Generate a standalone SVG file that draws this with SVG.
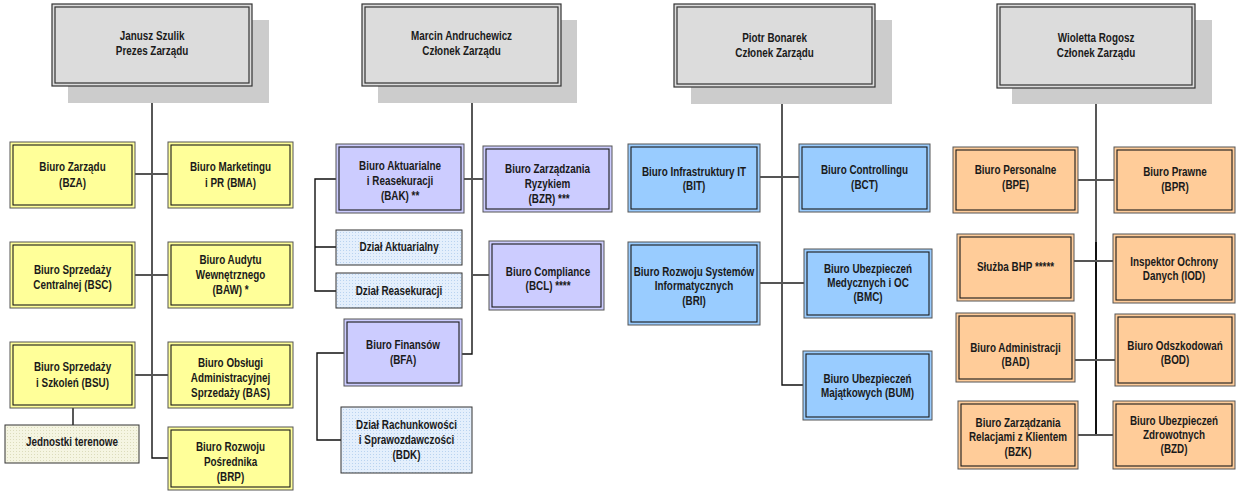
<svg xmlns="http://www.w3.org/2000/svg" width="1236" height="492" viewBox="0 0 1236 492">
<defs>
<pattern id="dotB" width="3" height="3" patternUnits="userSpaceOnUse"><rect width="3" height="3" fill="#e4effc"/><rect x="1" y="1" width="1" height="1" fill="#b9d3f0"/></pattern>
<pattern id="dotY" width="3" height="3" patternUnits="userSpaceOnUse"><rect width="3" height="3" fill="#f5f5e2"/><rect x="1" y="1" width="1" height="1" fill="#dcdcbc"/></pattern>
</defs>
<style>
text{font-family:"Liberation Sans Narrow","Liberation Sans",Arial,sans-serif;font-weight:bold;font-size:12.5px;fill:#1a1a1a;text-anchor:middle;transform-box:fill-box;transform-origin:center;transform:scaleX(0.79)}
.sh{fill:#cccccc}
.hd{fill:#dcdcdc;stroke:#333;stroke-width:1.2}
.hi{fill:none;stroke:#333;stroke-width:1.2}
.y{fill:#ffff99;stroke:#555;stroke-width:1}
.p{fill:#ccccff;stroke:#555;stroke-width:1}
.b{fill:#99ccff;stroke:#555;stroke-width:1}
.o{fill:#ffcc99;stroke:#555;stroke-width:1}
.in{fill:none;stroke:#1a1a1a;stroke-width:1.1}
.db{fill:url(#dotB);stroke:#333;stroke-width:1}
.dy{fill:url(#dotY);stroke:#333;stroke-width:1}
.t{fill:none;stroke:#111;stroke-width:1.4}
.c{fill:none;stroke:#555;stroke-width:2}
</style>
<g id="connectors">
<path class="t" d="M152,86V458H168"/>
<path class="c" d="M135,174H168M135,275H168M135,375H168"/>
<path class="t" d="M73,408V425"/>
<path class="t" d="M472,86V354H462"/>
<path class="c" d="M464,179H483M472,275H489"/>
<path class="t" d="M336,179H315V291H336M315,247H336"/>
<path class="t" d="M344,353H317V440H341"/>
<path class="t" d="M782,87V385H803"/>
<path class="c" d="M760,177H799M760,283H804"/>
<path class="t" d="M1096,88V242"/>
<path class="t" d="M1096,242V435" style="stroke-width:2"/>
<path class="c" d="M1078,180H1114M1074,261H1113M1075,360H1115M1078,435H1113"/>
</g>
<g id="head1"><rect class="sh" x="68" y="20" width="201" height="83"/><rect class="hd" x="52" y="4" width="200" height="82"/><rect class="hi" x="55" y="7" width="194" height="76"/><text x="152" y="40">Janusz Szulik</text><text x="152" y="55">Prezes Zarządu</text></g>
<g id="head2"><rect class="sh" x="378" y="20" width="199" height="83"/><rect class="hd" x="362" y="4" width="199" height="82"/><rect class="hi" x="365" y="7" width="193" height="76"/><text x="461.5" y="40">Marcin Andruchewicz</text><text x="461.5" y="55">Członek Zarządu</text></g>
<g id="head3"><rect class="sh" x="691" y="20" width="201" height="84"/><rect class="hd" x="674" y="4" width="201" height="83"/><rect class="hi" x="677" y="7" width="195" height="77"/><text x="774.5" y="42">Piotr Bonarek</text><text x="774.5" y="57">Członek Zarządu</text></g>
<g id="head4"><rect class="sh" x="1012" y="20" width="200" height="84"/><rect class="hd" x="997" y="4" width="198" height="84"/><rect class="hi" x="1000" y="7" width="192" height="78"/><text x="1096" y="42">Wioletta Rogosz</text><text x="1096" y="57">Członek Zarządu</text></g>

<g id="BZA"><rect class="y" x="10" y="142" width="125" height="66"/><rect class="in" x="13" y="145" width="119" height="60"/><text x="72.5" y="171">Biuro Zarządu</text><text x="72.5" y="187">(BZA)</text></g>
<g id="BMA"><rect class="y" x="168" y="142" width="125" height="66"/><rect class="in" x="171" y="145" width="119" height="60"/><text x="230.5" y="171">Biuro Marketingu</text><text x="230.5" y="187">i PR (BMA)</text></g>
<g id="BSC"><rect class="y" x="10" y="242" width="125" height="66"/><rect class="in" x="13" y="245" width="119" height="60"/><text x="72.5" y="274">Biuro Sprzedaży</text><text x="72.5" y="289">Centralnej (BSC)</text></g>
<g id="BAW"><rect class="y" x="168" y="242" width="125" height="66"/><rect class="in" x="171" y="245" width="119" height="60"/><text x="230.5" y="264">Biuro Audytu</text><text x="230.5" y="279">Wewnętrznego</text><text x="230.5" y="294">(BAW) *</text></g>
<g id="BSU"><rect class="y" x="10" y="342" width="125" height="66"/><rect class="in" x="13" y="345" width="119" height="60"/><text x="72.5" y="371">Biuro Sprzedaży</text><text x="72.5" y="387">i Szkoleń (BSU)</text></g>
<g id="BAS"><rect class="y" x="168" y="342" width="125" height="66"/><rect class="in" x="171" y="345" width="119" height="60"/><text x="230.5" y="367">Biuro Obsługi</text><text x="230.5" y="382">Administracyjnej</text><text x="230.5" y="397">Sprzedaży (BAS)</text></g>
<g id="JT"><rect class="dy" x="5" y="425" width="134" height="38"/><text x="72" y="446">Jednostki terenowe</text></g>
<g id="BRP"><rect class="y" x="168" y="427" width="125" height="63"/><rect class="in" x="171" y="430" width="119" height="57"/><text x="230.5" y="451">Biuro Rozwoju</text><text x="230.5" y="466">Pośrednika</text><text x="230.5" y="481">(BRP)</text></g>

<g id="BAK"><rect class="p" x="336" y="144" width="128" height="69"/><rect class="in" x="339" y="147" width="122" height="63"/><text x="400" y="170">Biuro Aktuarialne</text><text x="400" y="185">i Reasekuracji</text><text x="400" y="200">(BAK) **</text></g>
<g id="BZR"><rect class="p" x="483" y="146" width="129" height="66"/><rect class="in" x="486" y="149" width="123" height="60"/><text x="547.5" y="173">Biuro Zarządzania</text><text x="547.5" y="188">Ryzykiem</text><text x="549" y="203">(BZR) ***</text></g>
<g id="DA"><rect class="db" x="336" y="230" width="126" height="35"/><text x="399" y="251">Dział Aktuarialny</text></g>
<g id="DR"><rect class="db" x="336" y="273" width="126" height="35"/><text x="399" y="295">Dział Reasekuracji</text></g>
<g id="BCL"><rect class="p" x="489" y="241" width="115" height="69"/><rect class="in" x="492" y="244" width="109" height="63"/><text x="548" y="276">Biuro Compliance</text><text x="548" y="290">(BCL) ****</text></g>
<g id="BFA"><rect class="p" x="344" y="319" width="118" height="67"/><rect class="in" x="347" y="322" width="112" height="61"/><text x="403" y="349">Biuro Finansów</text><text x="403" y="364">(BFA)</text></g>
<g id="BDK"><rect class="db" x="341" y="407" width="131" height="66"/><text x="406.5" y="429">Dział Rachunkowości</text><text x="406.5" y="444">i Sprawozdawczości</text><text x="406.5" y="459">(BDK)</text></g>

<g id="BIT"><rect class="b" x="628" y="144" width="132" height="68"/><rect class="in" x="631" y="147" width="126" height="62"/><text x="694" y="176">Biuro Infrastruktury IT</text><text x="694" y="190">(BIT)</text></g>
<g id="BCT"><rect class="b" x="799" y="144" width="131" height="68"/><rect class="in" x="802" y="147" width="125" height="62"/><text x="864.5" y="174">Biuro Controllingu</text><text x="864.5" y="189">(BCT)</text></g>
<g id="BRI"><rect class="b" x="628" y="242" width="132" height="83"/><rect class="in" x="631" y="245" width="126" height="77"/><text x="694" y="276">Biuro Rozwoju Systemów</text><text x="694" y="290">Informatycznych</text><text x="694" y="305">(BRI)</text></g>
<g id="BMC"><rect class="b" x="804" y="249" width="128" height="69"/><rect class="in" x="807" y="252" width="122" height="63"/><text x="868" y="273">Biuro Ubezpieczeń</text><text x="868" y="287">Medycznych i OC</text><text x="868" y="301">(BMC)</text></g>
<g id="BUM"><rect class="b" x="803" y="351" width="129" height="69"/><rect class="in" x="806" y="354" width="123" height="63"/><text x="867.5" y="383">Biuro Ubezpieczeń</text><text x="867.5" y="397">Majątkowych (BUM)</text></g>

<g id="BPE"><rect class="o" x="953" y="147" width="125" height="66"/><rect class="in" x="956" y="150" width="119" height="60"/><text x="1015.5" y="174">Biuro Personalne</text><text x="1015.5" y="189">(BPE)</text></g>
<g id="BPR"><rect class="o" x="1114" y="147" width="121" height="66"/><rect class="in" x="1117" y="150" width="115" height="60"/><text x="1175" y="176">Biuro Prawne</text><text x="1175" y="191">(BPR)</text></g>
<g id="BHP"><rect class="o" x="957" y="234" width="117" height="67"/><rect class="in" x="960" y="237" width="111" height="61"/><text x="1015.5" y="271">Służba BHP *****</text></g>
<g id="IOD"><rect class="o" x="1113" y="234" width="122" height="69"/><rect class="in" x="1116" y="237" width="116" height="63"/><text x="1174" y="266">Inspektor Ochrony</text><text x="1174" y="280">Danych (IOD)</text></g>
<g id="BAD"><rect class="o" x="956" y="313" width="119" height="69"/><rect class="in" x="959" y="316" width="113" height="63"/><text x="1015.5" y="352">Biuro Administracji</text><text x="1015.5" y="366">(BAD)</text></g>
<g id="BOD"><rect class="o" x="1115" y="314" width="120" height="72"/><rect class="in" x="1118" y="317" width="114" height="66"/><text x="1175" y="350">Biuro Odszkodowań</text><text x="1175" y="364">(BOD)</text></g>
<g id="BZK"><rect class="o" x="958" y="401" width="120" height="68"/><rect class="in" x="961" y="404" width="114" height="62"/><text x="1018" y="427">Biuro Zarządzania</text><text x="1018" y="441">Relacjami z Klientem</text><text x="1018" y="456">(BZK)</text></g>
<g id="BZD"><rect class="o" x="1113" y="401" width="122" height="68"/><rect class="in" x="1116" y="404" width="116" height="62"/><text x="1174" y="425">Biuro Ubezpieczeń</text><text x="1174" y="439">Zdrowotnych</text><text x="1174" y="453">(BZD)</text></g>
</svg>
